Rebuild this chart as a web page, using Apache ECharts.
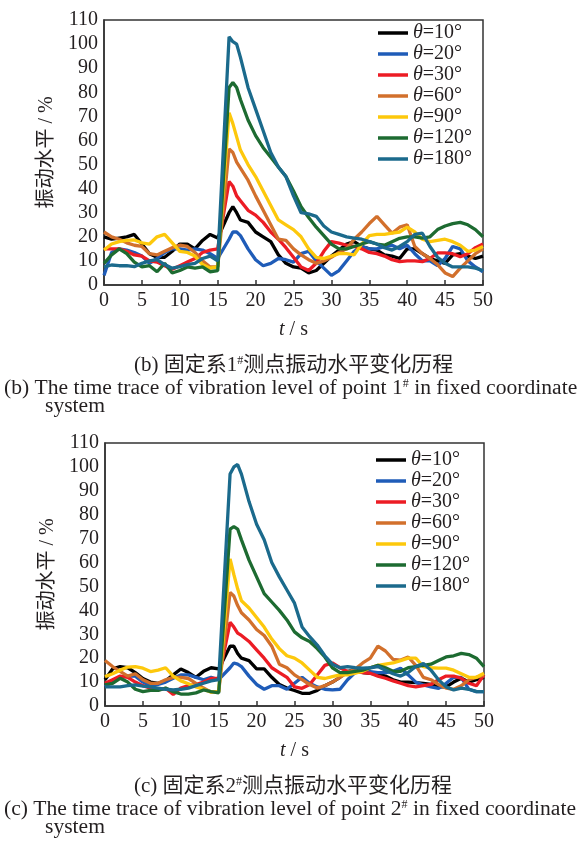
<!DOCTYPE html>
<html>
<head>
<meta charset="utf-8">
<script src="https://cdn.jsdelivr.net/npm/echarts@6/dist/echarts.min.js"></script>
<style>html,body{margin:0;padding:0;background:#fff;}#c{width:579px;height:844px;}</style>
</head>
<body>
<div id="c"></div>
<script>
// time axis (s)
const T = [0,1,2,3,4,5,6,7,8,9,10,11,12,13,14,15,16.5,17,17.5,
  18,19,20,21,22,23,24,25,26,27,28,29,30,31,32,33,34,35,36,37,38,39,40,41,42,43,44,45,46,47,48,49,50];

const names = ['θ=10°','θ=20°','θ=30°','θ=60°','θ=90°','θ=120°','θ=180°'];
const colors = ['#000000','#1f5cb8','#ec1c24','#d2702c','#fdc80c','#1d6b31','#1b6a8c'];
const xTicks = [0,5,10,15,20,25,30,35,40,45,50];
const yTicks = [0,10,20,30,40,50,60,70,80,90,100,110];

// (b) point 1#
const b10  = [20,19,19.5,20,21,17,13,11.5,11.5,14,17,17,15,18.5,21,19.5, 30,32.5,30,
  27,26,22,20,18,12.5,9,7.5,7,5,6,9,12,14.5,17,18,16,15,14.5,12.5,12,11,15,15,13,11,10,9,12.5,13,12,11,12];
const b20  = [4,13.5,15,14.5,13.5,12,9,11,13.5,15,15,14.5,15,14.5,13,11, 19,22,22,
  20.5,15,10.5,8,9,11,10.5,9.5,13,14,10,7,4,6,10,14,16,15,15,16,16.5,15,16.5,13,10,10,8,11,16,15,10,7.5,5.5];
const b30  = [15,15,15,14,12.5,12,10,9.5,8,6.5,8,9.5,11,13.5,14.5,15, 43,41,37,
  35,31,29,26,22,19,15.5,11.5,7.5,6,9,14,18,17.4,16.5,16,15,13.5,13,12,10.5,9.7,10,10,9.7,11,13.3,13.3,13,11.7,13,15.5,17];
const b60  = [22,20,19,17.5,16.5,16,13,12.5,14,15.5,16.5,16,13.5,10,7.5,7.5, 56.5,55,51,
  48.5,43.5,37,31,25,19,18.5,15,12.5,10.5,9,10,11.5,13.5,15,19,22,25.5,28.5,25,21.5,24,25,16,13,11,8.5,5,3.5,7,10,13,15];
const b90  = [14.5,17,18,18.5,18.7,17.5,17,20,21,17.5,14,13.5,12,8.5,7,7.5, 71.5,67,61.5,
  56,50,45,39,33,27,25,23,20,15,11.5,11,12,13,13,12.5,17,20.5,21,21,21.5,22,24,22,19,18,18.5,19,18,16.5,14,14.5,16];
const b120 = [9,12.5,15,13,9.5,7.5,8,5.5,9,5,6,7.5,7,7.5,5.5,6, 82,84,82,
  77,68.5,62,57,53,49,45,39,32.5,28,24,20.5,17,15,15,16,17,18,17,16.5,18,19.4,20,20,19.5,20,23,24.5,25.5,26,25,23,20];
const b180 = [7.5,8.3,8,8,7.6,9,10,10.5,8.5,7,7.6,8.5,9,11,12,10, 103,101,100,
  94.5,82,73,64,55,49,45,37,30,29.5,28.5,24.5,22,21,20,19.5,19,18,17,15.5,14.5,16,18,21,21.5,16,11.5,9,7.5,7.5,7.5,7,6];

// (c) point 2#
const c10  = [11,15.5,16.5,16,14,11.5,10,9.5,10.5,13,15.5,14,12,14.5,16,15.5, 25,25,22,
  20,19,15.5,15.5,12,9,7.5,6.5,5.3,5.3,6.5,8.5,10,12,14.5,15,14,13.7,13.3,12.5,11,10,10,9.8,9.5,9,8,8,10,11.6,10,11,12];
const c20  = [8,10.5,12,12.5,12.5,10,8.5,9,10,11.6,13,13,12,11,12,11, 16,18,17.5,
  16.5,12.5,9,7,8.5,8.5,7,9.5,12,9.5,8,7,6.7,7,11,14,14.4,14.4,14,14,14.5,15.8,13,10,8.8,8,7.4,9.5,12,12,7,6,6];
const c30  = [9.5,11,12.5,12,10,8.5,7.5,6.7,7.4,4.8,7.5,8.5,9,10,11.5,11.5, 35,33,30.5,
  29.5,27,23.5,20,16,14,12,8,7.4,9,13,17,18,16,14.4,14.4,14,13.7,12.5,11.6,10.5,9.5,8.5,8,8.5,9,11,12.5,12.5,11.6,9.5,8.5,13];
const c60  = [19,16.5,14.5,12.5,13.5,11,9.5,9.5,11,12,12,11.5,9.5,7.5,5.8,6, 47.5,46,42,
  39,36,32,29.5,25,17.5,16,13,11,9,7.5,8.5,10,12,14,15.5,18,20,25,23,19.5,19.2,20.5,17,12,11,9,7.5,7,8.5,11,12,13];
const c90  = [12.3,13.5,15,16.3,16.5,15.8,14.4,15,16,12.5,10.5,9.3,8,7,5.8,6, 61.5,55,49,
  44,41,37,33,28,24,21,20,18,15,12,11.5,12.3,13,13,13.7,14.5,16,17,17.5,18,19,20,20,16.5,16,15.8,15.8,15,13.5,12,12,13.7];
const c120 = [8.8,9.5,11.6,10,7,6,6.5,6.5,7.5,6,5,5,5.5,6.7,6,5.5, 74,75,74,
  69.5,61,54,47,43.5,40,36,31,28.5,27,24,20.5,16,14,14,14.5,15,16,17,16,14.5,14.5,16,16.5,17,17.5,19,20.5,21,22,21.5,20,16.5];
const c180 = [8,8,8,8.5,8.8,8.3,8,7.5,7,6.7,7,7.5,8.5,9.5,10.5,11, 97,100,101,
  97,85.5,76,69.5,60,54,48.5,43,33,29,25.5,21,17.5,16,16.5,16,15.8,16,16.5,15,13.5,12.5,14,16.5,17.8,15,11,8,6.7,7.5,7,6,6];

const setB = [b10,b20,b30,b60,b90,b120,b180];
const setC = [c10,c20,c30,c60,c90,c120,c180];

const serif = "'Liberation Serif','Times New Roman',serif";
const cjk = "'Liberation Serif','Noto Sans CJK SC',serif";
const ink = '#231f20';

const chart = echarts.init(document.getElementById('c'), null, {renderer:'canvas', width:579, height:844});

function xAx(g){
  return {
    type:'value', gridIndex:g, min:0, max:50, interval:5,
    axisLine:{show:true, lineStyle:{color:'#333', width:1.5}},
    axisTick:{show:true, inside:true, length:5, lineStyle:{color:'#333', width:1.5}},
    axisLabel:{fontFamily:serif, fontSize:20, color:ink, margin:6,
      customValues: xTicks},
    splitLine:{show:false},
    name:'{i|t} / s', nameLocation:'middle', nameGap:35,
    nameTextStyle:{fontFamily:serif, fontSize:20, color:ink,
      rich:{i:{fontStyle:'italic', fontFamily:serif, fontSize:20, color:ink}}}
  };
}
function yAx(g){
  return {
    type:'value', gridIndex:g, min:0, max:110, interval:10,
    axisLine:{show:true, lineStyle:{color:'#333', width:1.5}},
    axisTick:{show:false},
    axisLabel:{fontFamily:serif, fontSize:20, color:ink, margin:6},
    splitLine:{show:false},
    name:'振动水平 / %', nameLocation:'middle', nameRotate:90, nameGap:45,
    nameTextStyle:{fontFamily:cjk, fontSize:20, color:ink}
  };
}

const series = [];
[setB, setC].forEach((set, g) => {
  set.forEach((arr, k) => {
    series.push({
      type:'line', name:names[k], xAxisIndex:g, yAxisIndex:g,
      data: T.map((t,i)=>[t, arr[i]]),
      symbol:'none', showSymbol:false, smooth:false,
      lineStyle:{width:3.3, color:colors[k]}, itemStyle:{color:colors[k]},
      z: 2 + k
    });
  });
});

function leg(left, top){
  return {
    data:names, orient:'vertical', left:left, top:top, padding:0,
    icon:'rect', itemWidth:30, itemHeight:3.5, itemGap:1, selectedMode:false,
    formatter: n => '{i|θ}' + n.slice(1),
    textStyle:{fontFamily:serif, fontSize:20, color:ink,
      rich:{i:{fontStyle:'italic', fontFamily:serif, fontSize:20, color:ink}}}
  };
}

function cap(text, x, y, size){
  return {
    type:'text', left:x, top:y - 11,
    style:{
      text:text, fill:ink, fontFamily:cjk, fontSize:size,
      rich:{s:{fontSize:12, fontFamily:serif, verticalAlign:'top', fill:ink}}
    }
  };
}

chart.setOption({
  animation:false,
  backgroundColor:'#fff',
  grid:[
    {left:104, top:20, width:379, height:265, show:true, borderColor:'#333', borderWidth:1.5, backgroundColor:'transparent'},
    {left:105, top:443, width:379, height:263, show:true, borderColor:'#333', borderWidth:1.5, backgroundColor:'transparent'}
  ],
  xAxis:[xAx(0), xAx(1)],
  yAxis:[yAx(0), yAx(1)],
  legend:[leg(378, 23), leg(376, 450)],
  series: series,
  graphic:[
    cap('(b) 固定系1{s|#}测点振动水平变化历程', 134, 366, 21),
    cap('(b) The time trace of vibration level of point 1{s|#} in fixed coordinate', 4, 389, 21.6),
    cap('system', 45, 407, 21.6),
    cap('(c) 固定系2{s|#}测点振动水平变化历程', 134, 787, 21),
    cap('(c) The time trace of vibration level of point 2{s|#} in fixed coordinate', 4, 810, 21.6),
    cap('system', 45, 828, 21.6)
  ]
});
</script>
</body>
</html>
